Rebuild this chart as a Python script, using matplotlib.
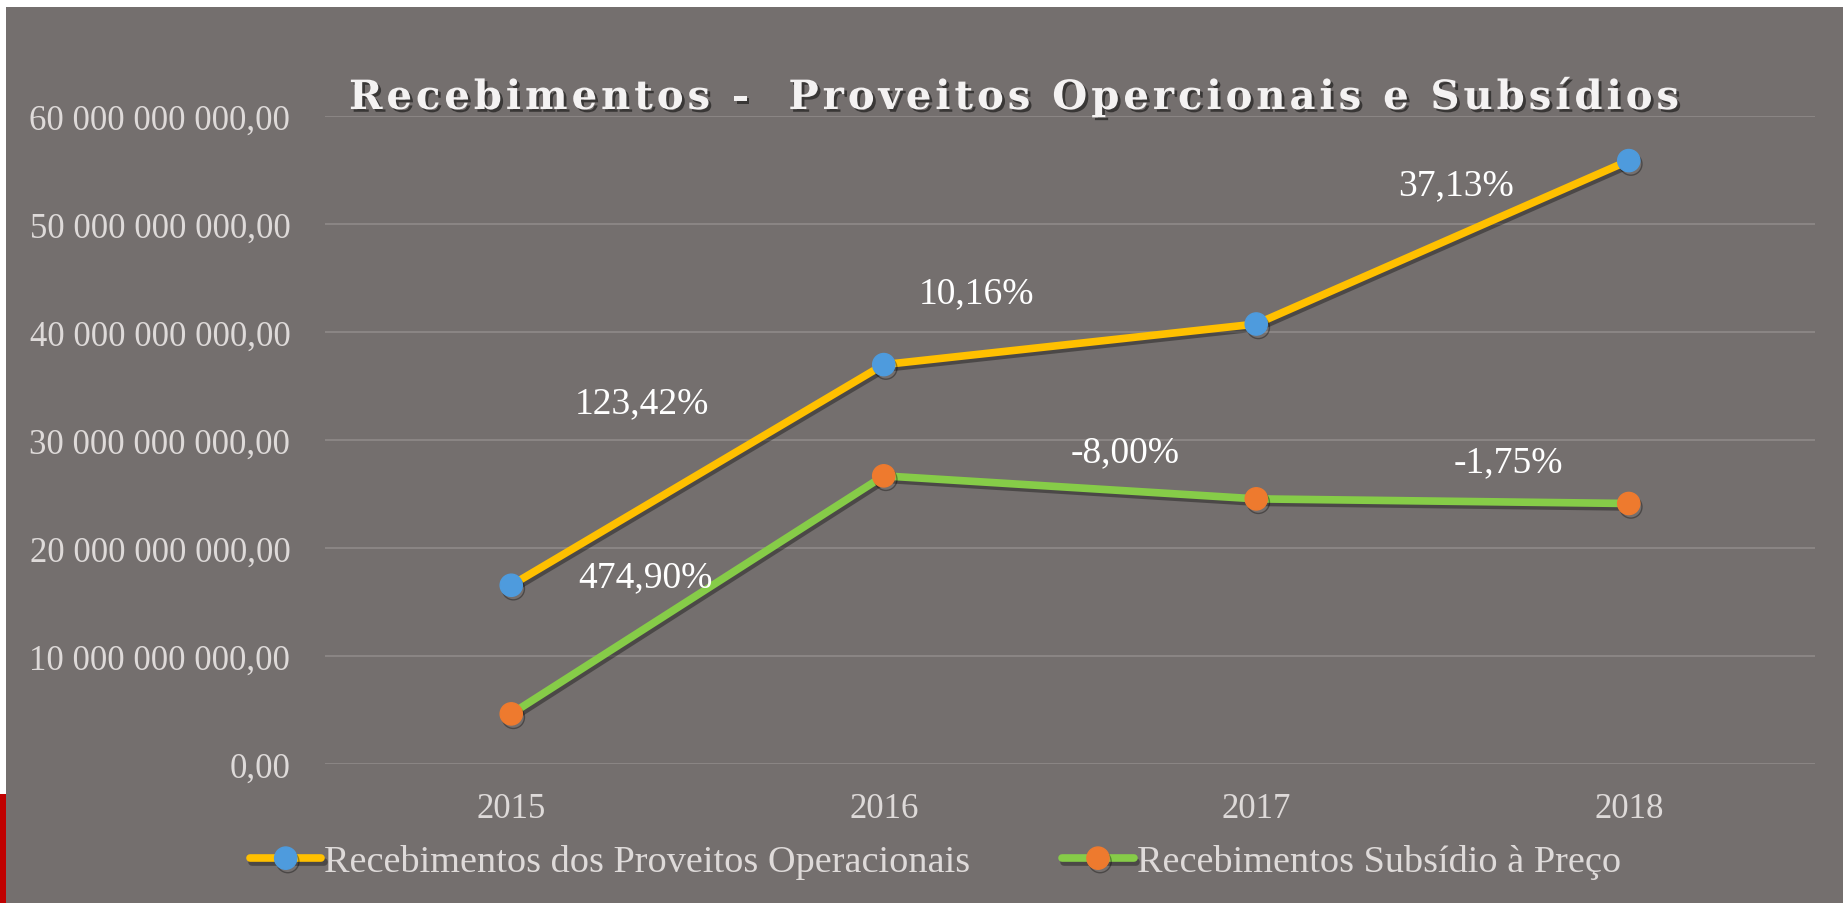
import matplotlib
matplotlib.use("Agg")
import matplotlib.pyplot as plt
import matplotlib.patheffects as pe
from matplotlib.patches import Rectangle
from matplotlib.ticker import FuncFormatter

# data
years = ["2015", "2016", "2017", "2018"]
proveitos = [16.55e9, 36.98e9, 40.74e9, 55.87e9]
subsidio = [4.64e9, 26.68e9, 24.55e9, 24.12e9]

# growth labels and where they sit (category index, value)
pct_labels = ["123,42%", "10,16%", "37,13%", "474,90%", "-8,00%", "-1,75%"]
pct_x = [0.351, 1.250, 2.536, 0.359, 1.648, 2.676]
pct_y = [33.4e9, 43.65e9, 53.6e9, 17.3e9, 28.9e9, 28.0e9]

title = "Recebimentos -  Proveitos Opercionais e Subsídios"
series_names = ["Recebimentos dos Proveitos Operacionais", "Recebimentos Subsídio à Preço"]

BG = "#746F6E"
GRID = "#8A8584"
TXT = "#DEDAD9"
W, H = 1843, 904

fig = plt.figure(figsize=(W / 100, H / 100), dpi=100, facecolor="white")
fig.patches.append(Rectangle((6 / W, 0), 1 - 6 / W, 1 - 8 / H, transform=fig.transFigure,
                             facecolor=BG, edgecolor="none", zorder=-10))
fig.patches.append(Rectangle((0, 0), 6 / W, 109 / H, transform=fig.transFigure,
                             facecolor="#C00000", edgecolor="none", zorder=-10))

ax = fig.add_axes([325 / W, 1 - 765 / H, (1815 - 325) / W, (765 - 117) / H])
ax.patch.set_alpha(0)

x = list(range(len(years)))
shadow = [pe.SimpleLineShadow(offset=(1.5, -2.5), alpha=0.35, shadow_color="black"), pe.Normal()]
ax.plot(x, proveitos, color="#FFC000", lw=5.5, marker="o", markersize=16,
        markerfacecolor="#4E9BDD", markeredgecolor="#4E9BDD", label=series_names[0],
        path_effects=shadow, zorder=3, solid_capstyle="round")
ax.plot(x, subsidio, color="#86CC48", lw=5.5, marker="o", markersize=16,
        markerfacecolor="#EE7A2E", markeredgecolor="#EE7A2E", label=series_names[1],
        path_effects=shadow, zorder=3, solid_capstyle="round")

for s, xx, yy in zip(pct_labels, pct_x, pct_y):
    ax.text(xx, yy, s, ha="center", va="center", fontsize=27, color="white",
            family="Liberation Serif", zorder=4)

ax.set_xlim(-0.5, 3.5)
ax.set_ylim(0, 60e9)
ax.set_yticks([i * 10e9 for i in range(7)])
ax.yaxis.set_major_formatter(FuncFormatter(lambda v, p: f"{int(v):,}".replace(",", " ") + ",00"))
ax.set_xticks(x)
ax.set_xticklabels(years)
ax.tick_params(axis="y", length=0, pad=25, labelsize=25, labelcolor=TXT)
ax.tick_params(axis="x", length=0, pad=20, labelsize=25, labelcolor=TXT)
for lab in ax.get_xticklabels() + ax.get_yticklabels():
    lab.set_family("Liberation Serif")
ax.grid(axis="y", color=GRID, lw=1.5)
ax.set_axisbelow(True)
for sp in ax.spines.values():
    sp.set_visible(False)

leg = fig.legend(loc="center left", bbox_to_anchor=(250 / W, 1 - 863 / H), ncol=2,
                 frameon=False, borderpad=0, borderaxespad=0, handlelength=1.87,
                 handletextpad=0.08, columnspacing=2.4,
                 prop={"family": "Liberation Serif", "size": 27.5})
for t in leg.get_texts():
    t.set_color(TXT)

# title with letter spacing, placed char by char
renderer = fig.canvas.get_renderer()
tkw = dict(fontsize=29, fontweight="bold", family="DejaVu Serif")


def text_w(s):
    t = fig.text(0, 0, s, **tkw)
    w = t.get_window_extent(renderer).width
    t.remove()
    return w


base = text_w("||")
widths = [text_w("|" + ch + "|") - base for ch in title]
track = (1330 - sum(widths)) / (len(title) - 1)
xpos = 349
for ch, w in zip(title, widths):
    fig.text(xpos / W, 1 - 99 / H, ch, color="#F4F2F2", va="center", ha="left",
             path_effects=[pe.withSimplePatchShadow(offset=(2, -2), shadow_rgbFace="black", alpha=0.5)],
             **tkw)
    xpos += w + track

fig.savefig("out.png", dpi=100, facecolor=fig.get_facecolor())
